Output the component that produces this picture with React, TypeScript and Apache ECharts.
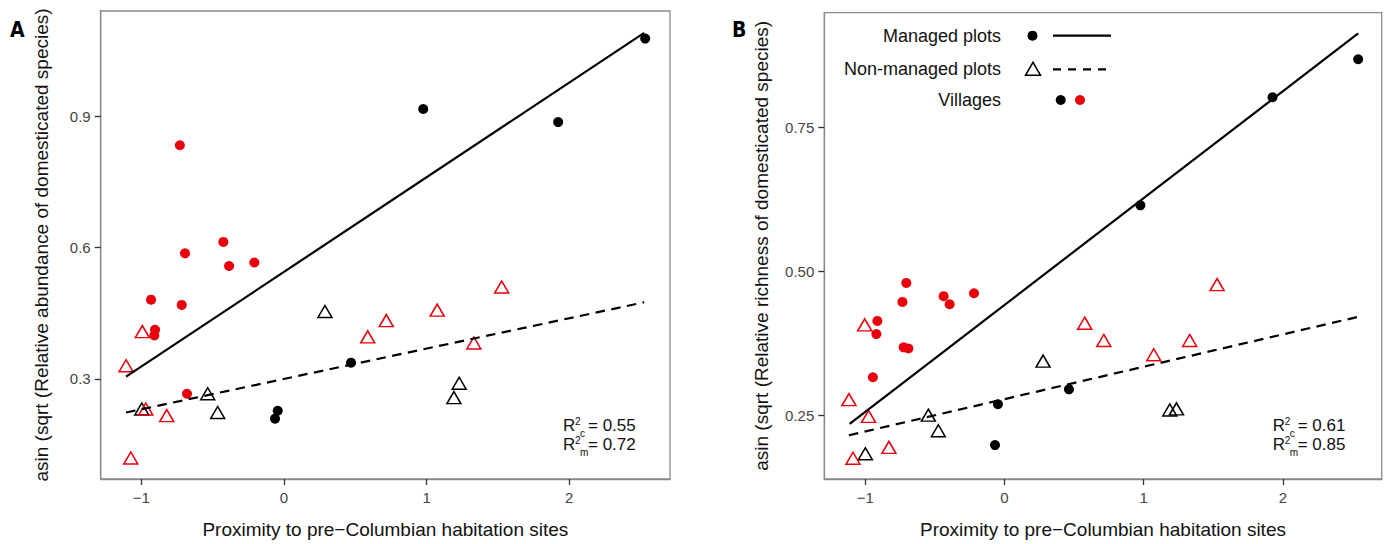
import React, { useEffect, useRef } from "react";
import * as echarts from "echarts";

const FONT = '"Liberation Sans", Arial, Helvetica, sans-serif';
const RED = "#e8000b";

// ---- Panel A: abundance ----
const aManagedBlack: number[][] = [[2.532, 1.078], [0.976, 0.917], [1.922, 0.887], [0.47, 0.337], [-0.044, 0.227], [-0.063, 0.209]];
const aManagedRed: number[][] = [[-0.73, 0.834], [-0.425, 0.613], [-0.694, 0.587], [-0.385, 0.558], [-0.208, 0.566], [-0.932, 0.481], [-0.717, 0.469], [-0.904, 0.412], [-0.909, 0.399], [-0.68, 0.266]];
const aNonBlack: number[][] = [[0.287, 0.454], [-0.535, 0.266], [-0.465, 0.223], [1.228, 0.29], [1.191, 0.257], [-0.997, 0.231]];
const aNonRed: number[][] = [[-0.993, 0.408], [-1.107, 0.33], [-0.969, 0.231], [-0.822, 0.216], [-1.074, 0.119], [0.587, 0.396], [0.717, 0.433], [1.074, 0.457], [1.526, 0.51], [1.331, 0.382]];
const aManagedFit: number[][] = [[-1.107, 0.305], [2.525, 1.091]];
const aNonFit: number[][] = [[-1.107, 0.223], [2.525, 0.475]];
const aYTicks = [0.3, 0.6, 0.9];
const aR2 = ["0.55", "0.72"];

// ---- Panel B: richness ----
const bManagedBlack: number[][] = [[-0.047, 0.269], [-0.068, 0.198], [0.463, 0.295], [0.976, 0.615], [1.925, 0.803], [2.54, 0.869]];
const bManagedRed: number[][] = [[-0.705, 0.48], [-0.733, 0.447], [-0.437, 0.457], [-0.394, 0.443], [-0.219, 0.462], [-0.913, 0.414], [-0.92, 0.391], [-0.724, 0.368], [-0.69, 0.366], [-0.945, 0.316]];
const bNonBlack: number[][] = [[0.277, 0.344], [-0.547, 0.25], [-0.475, 0.223], [-0.999, 0.183], [1.187, 0.259], [1.235, 0.261]];
const bNonRed: number[][] = [[-1.004, 0.407], [-1.117, 0.277], [-0.976, 0.248], [-0.83, 0.194], [-1.088, 0.175], [0.576, 0.41], [0.713, 0.38], [1.527, 0.477], [1.33, 0.38], [1.072, 0.355]];
const bManagedFit: number[][] = [[-1.112, 0.235], [2.54, 0.914]];
const bNonFit: number[][] = [[-1.117, 0.215], [2.54, 0.421]];
const bYTicks = [0.25, 0.5, 0.75];
const bR2 = ["0.61", "0.85"];

const xTicks = [-1, 0, 1, 2];
const xTitle = "Proximity to pre\u2212Columbian habitation sites";
const aYTitle = "asin (sqrt (Relative abundance of domesticated species)";
const bYTitle = "asin (sqrt (Relative richness of domesticated species)";
const legendLabels = ["Managed plots", "Non-managed plots", "Villages"];

const DASH = [9.5, 6.5];

function xAxisFor(gridIndex: number, min: number, max: number) {
  return {
    type: "value",
    gridIndex,
    min,
    max,
    axisLine: { show: true, onZero: false, lineStyle: { color: "#8a8a8a", width: 1.3 } },
    axisTick: { show: true, length: 6, customValues: xTicks, lineStyle: { color: "#333", width: 1.3 } },
    axisLabel: {
      customValues: xTicks,
      formatter: (v: number) => (v < 0 ? "\u2212" + Math.abs(v) : String(v)),
      fontSize: 15,
      color: "#444",
      margin: 11,
      fontFamily: FONT,
    },
    splitLine: { show: false },
    name: xTitle,
    nameLocation: "middle",
    nameGap: 41,
    nameTextStyle: { fontSize: 19, color: "#111", fontFamily: FONT },
  };
}

function yAxisFor(gridIndex: number, min: number, max: number, ticks: number[], decimals: number, title: string, gap: number) {
  return {
    type: "value",
    gridIndex,
    min,
    max,
    axisLine: { show: true, onZero: false, lineStyle: { color: "#8a8a8a", width: 1.3 } },
    axisTick: { show: true, length: 6, customValues: ticks, lineStyle: { color: "#333", width: 1.3 } },
    axisLabel: {
      customValues: ticks,
      formatter: (v: number) => v.toFixed(decimals),
      fontSize: 15,
      color: "#444",
      margin: 10,
      fontFamily: FONT,
    },
    splitLine: { show: false },
    name: title,
    nameLocation: "middle",
    nameRotate: 90,
    nameGap: gap,
    nameTextStyle: { fontSize: 19, color: "#111", fontFamily: FONT },
  };
}

function panelSeries(idx: number, mb: number[][], mr: number[][], nb: number[][], nr: number[][], mf: number[][], nf: number[][]) {
  const circle = (name: string, data: number[][], color: string) => ({
    name, type: "scatter", xAxisIndex: idx, yAxisIndex: idx, data,
    symbol: "circle", symbolSize: 10, itemStyle: { color, opacity: 1 }, z: 3,
  });
  const tri = (name: string, data: number[][], color: string) => ({
    name, type: "scatter", xAxisIndex: idx, yAxisIndex: idx, data,
    symbol: "triangle", symbolSize: [14, 12],
    itemStyle: { color: "rgba(0,0,0,0)", borderColor: color, borderWidth: 1.5, opacity: 1 }, z: 3,
  });
  const fit = (name: string, data: number[][], type: any) => ({
    name, type: "line", xAxisIndex: idx, yAxisIndex: idx, data,
    showSymbol: false, symbol: "none", lineStyle: { color: "#000", width: 2.2, type }, z: 4, silent: true,
  });
  return [
    circle("Managed plots, village 1", mb, "#000"),
    circle("Managed plots, village 2", mr, RED),
    tri("Non-managed plots, village 1", nb, "#000"),
    tri("Non-managed plots, village 2", nr, RED),
    fit("Managed plots fit", mf, "solid"),
    fit("Non-managed plots fit", nf, DASH),
  ];
}

function r2Graphics(x: number, y: number, vals: string[]) {
  const out: any[] = [];
  const subs = ["c", "m"];
  vals.forEach((v, i) => {
    const cy = y + i * 19;
    out.push({ type: "text", x, y: cy, style: { text: "R", fontSize: 17, fontFamily: FONT, fill: "#111", textAlign: "left", textVerticalAlign: "middle" } });
    out.push({ type: "text", x: x + 12, y: cy - 3.5, style: { text: "2", fontSize: 10, fontFamily: FONT, fill: "#111", textAlign: "left", textVerticalAlign: "middle" } });
    out.push({ type: "text", x: x + 17, y: cy + 8.5, style: { text: subs[i], fontSize: 10, fontFamily: FONT, fill: "#111", textAlign: "left", textVerticalAlign: "middle" } });
    out.push({ type: "text", x: x + 25, y: cy, style: { text: "= " + v, fontSize: 17, fontFamily: FONT, fill: "#111", textAlign: "left", textVerticalAlign: "middle" } });
  });
  return out;
}

function legendGraphics() {
  const tx = 1001;
  const ys = [35.7, 69.3, 100];
  const g: any[] = [];
  legendLabels.forEach((t, i) => {
    g.push({ type: "text", x: tx, y: ys[i], style: { text: t, fontSize: 18, fontFamily: FONT, fill: "#111", textAlign: "right", textVerticalAlign: "middle" } });
  });
  g.push({ type: "circle", shape: { cx: 1032.5, cy: ys[0], r: 5 }, style: { fill: "#000" } });
  g.push({ type: "line", shape: { x1: 1053, y1: ys[0], x2: 1111, y2: ys[0] }, style: { stroke: "#000", lineWidth: 2.2 } });
  g.push({ type: "polygon", shape: { points: [[1025.5, ys[1] + 6], [1040.5, ys[1] + 6], [1033, ys[1] - 7]] }, style: { fill: "none", stroke: "#000", lineWidth: 1.5 } });
  g.push({ type: "line", shape: { x1: 1053, y1: ys[1], x2: 1111, y2: ys[1] }, style: { stroke: "#000", lineWidth: 2.2, lineDash: [8, 7] } });
  g.push({ type: "circle", shape: { cx: 1060.7, cy: ys[2], r: 5 }, style: { fill: "#000" } });
  g.push({ type: "circle", shape: { cx: 1080, cy: ys[2], r: 5 }, style: { fill: RED } });
  return g;
}

export default function App() {
  const ref = useRef<HTMLDivElement>(null);
  useEffect(() => {
    document.body.style.margin = "0";
    if (!ref.current) return;
    const chart = echarts.init(ref.current, undefined, { renderer: "svg" });
    const option: any = {
      animation: false,
      backgroundColor: "#fff",
      grid: [
        { left: 100.7, top: 11, width: 569.3, height: 478, show: true, borderColor: "#8a8a8a", borderWidth: 1.3, backgroundColor: "transparent" },
        { left: 824.3, top: 12.7, width: 557.4, height: 475.6, show: true, borderColor: "#8a8a8a", borderWidth: 1.3, backgroundColor: "transparent" },
      ],
      xAxis: [xAxisFor(0, -1.285, 2.706), xAxisFor(1, -1.294, 2.709)],
      yAxis: [
        yAxisFor(0, 0.071, 1.141, aYTicks, 1, aYTitle, 49.5),
        yAxisFor(1, 0.139, 0.95, bYTicks, 2, bYTitle, 53.5),
      ],
      series: [
        ...panelSeries(0, aManagedBlack, aManagedRed, aNonBlack, aNonRed, aManagedFit, aNonFit),
        ...panelSeries(1, bManagedBlack, bManagedRed, bNonBlack, bNonRed, bManagedFit, bNonFit),
      ],
      graphic: [
        { type: "text", x: 10, y: 29.5, style: { text: "A", fontSize: 21, fontWeight: "bold", fontFamily: '"Liberation Sans Narrow", "DejaVu Sans Condensed", ' + FONT, fill: "#000", textAlign: "left", textVerticalAlign: "middle" } },
        { type: "text", x: 732, y: 30, style: { text: "B", fontSize: 21, fontWeight: "bold", fontFamily: '"Liberation Sans Narrow", "DejaVu Sans Condensed", ' + FONT, fill: "#000", textAlign: "left", textVerticalAlign: "middle" } },
        ...legendGraphics(),
        ...r2Graphics(563, 425, aR2),
        ...r2Graphics(1272.7, 425, bR2),
      ],
    };
    chart.setOption(option);
    return () => chart.dispose();
  }, []);
  return <div ref={ref} style={{ width: 1388, height: 544 }} />;
}
